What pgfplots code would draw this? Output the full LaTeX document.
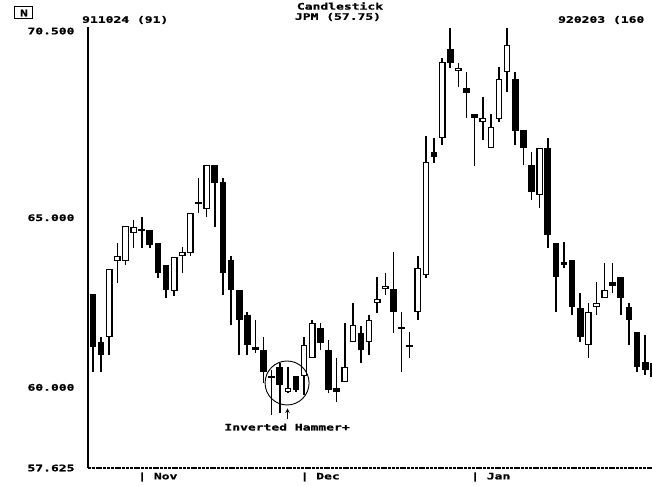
\documentclass[border=0pt]{standalone}
\usepackage{fontspec}
\setmainfont{DejaVu Sans Mono}[FakeStretch=1.45, BoldFeatures={FakeBold=1.2}]
\usepackage{pgfplots}
\pgfplotsset{compat=1.18}
\usepackage{pgfplotstable}

% JPM daily candles, 911024 .. 920203 (x = trading day)
\pgfplotstableread{
x  o     h     l     c
1  62.75 62.75 60.45 61.19
2  61.34 61.48 60.45 60.95
3  61.48 63.49 60.95 63.49
4  63.72 64.25 63.07 63.87
5  63.72 64.75 63.61 64.75
6  64.55 64.93 64.11 64.73
7  64.66 65.02 64.11 64.62
8  64.64 64.64 64.11 64.19
9  64.25 64.25 63.22 63.37
10 63.61 63.61 62.63 62.87
11 62.84 63.84 62.69 63.84
12 63.87 64.14 63.37 63.99
13 63.96 65.14 63.87 65.14
14 65.45 66.17 65.14 65.41
15 65.25 66.55 65.02 66.55
16 66.55 66.55 64.73 66.02
17 66.05 66.17 62.72 63.37
18 63.75 63.87 61.84 62.87
19 62.87 62.87 60.95 61.98
20 62.13 62.22 60.95 61.25
21 61.19 61.98 61.01 61.10
22 61.10 61.48 60.13 60.45
23 60.35 60.51 59.20 60.29
24 60.60 60.72 59.25 60.07
25 59.86 60.60 59.83 59.98
26 60.34 60.34 59.86 59.92
27 60.34 61.48 59.78 61.25
28 60.87 61.98 60.87 61.90
29 61.75 61.90 61.10 61.31
30 61.10 61.40 59.83 59.92
31 59.98 60.87 59.57 59.86
32 60.16 61.90 60.16 60.60
33 61.34 62.49 61.34 61.84
34 61.60 61.81 60.72 61.10
35 61.34 62.13 60.95 61.98
36 62.49 63.25 62.19 62.61
37 62.90 63.37 62.72 62.99
38 62.90 63.99 61.60 62.22
39 61.77 62.22 60.45 61.73
40 61.24 61.63 60.87 61.20
41 62.22 63.87 61.98 63.52
42 63.31 67.40 63.22 66.64
43 66.93 67.35 66.61 66.79
44 67.35 69.70 67.14 69.59
45 69.97 70.60 69.41 69.56
46 69.32 69.56 68.85 69.41
47 68.82 69.29 67.94 68.67
48 68.05 68.05 66.52 67.94
49 67.82 68.56 67.29 67.94
50 67.05 68.05 67.05 67.67
51 67.91 69.44 67.82 69.09
52 69.29 70.60 68.70 70.09
53 69.09 69.29 67.14 67.55
54 67.58 67.58 66.55 67.05
55 66.55 66.93 65.52 65.76
56 65.67 67.05 65.28 67.05
57 67.05 67.35 64.11 64.49
58 64.25 64.25 62.22 63.25
59 63.69 64.28 63.52 63.60
60 63.75 63.75 62.13 62.37
61 62.34 62.78 61.34 61.48
62 61.25 62.49 60.87 62.22
63 62.37 63.10 62.13 62.49
64 62.63 63.66 62.63 62.87
65 63.10 63.66 62.78 62.99
66 63.25 63.25 62.13 62.63
67 62.37 62.49 61.25 61.98
68 61.63 61.63 60.45 60.60
69 60.75 61.54 60.36 60.51
70 60.72 60.72 60.25 60.31
}\jpm

\begin{document}
\begin{tikzpicture}[font=\fontsize{9}{10}\selectfont\bfseries]
\begin{axis}[
    at={(0,0)}, anchor=south west,
    scale only axis, width=564bp, height=441bp,
    xmin=0.384, xmax=69.84, ymin=57.625, ymax=70.62,
    axis x line=bottom, axis y line=left,
    x axis line style={-, line width=1.2bp, dash pattern=on 3bp off 0.8bp},
    y axis line style={-, line width=1.3bp},
    xtick={7,27,48}, xticklabels={| Nov,| Dec,| Jan},
    ytick={57.625,60,65,70.5}, yticklabels={57.625,60.000,65.000,70.500},
    major tick length=0pt,
    xticklabel style={anchor=north west, xshift=-7bp, yshift=-1bp},
    yticklabel style={anchor=east, xshift=-10bp},
    candle/.style={draw=none, mark=none,
        error bars/y dir=plus, error bars/y explicit,
        error bars/error mark=none},
]
% wicks
\addplot[candle, error bars/error bar style={draw=black, line width=1.6bp}]
    table[x=x, y=l, y error plus expr={\thisrow{h}-\thisrow{l}}] {\jpm};
% bodies (black)
\addplot[candle, error bars/error bar style={draw=black, line width=6.7bp}]
    table[x=x, y expr={min(\thisrow{o},\thisrow{c})},
          y error plus expr={abs(\thisrow{c}-\thisrow{o})}] {\jpm};
% hollow insides for up days
\addplot[candle, error bars/error bar style={draw=white, line width=4.1bp}]
    table[x=x, y expr={min(\thisrow{o},\thisrow{c})+0.038},
          y error plus expr={max(\thisrow{c}-\thisrow{o}-0.076,0)}] {\jpm};

\draw[line width=0.9bp] (axis cs:24.9,60.13) circle[radius=22bp];
\draw[line width=1bp, ->, >=stealth] (axis cs:24.95,59.08) -- (axis cs:24.95,59.38);
\node at (axis cs:24.9,58.83) {Inverted Hammer+};
\end{axis}

\node[inner sep=0pt] at (252bp,462bp) {Candlestick};
\node[inner sep=0pt] at (250bp,451bp) {JPM (57.75)};
\node[anchor=west, inner sep=0pt] at (-6bp,448bp) {911024 (91)};
\node[anchor=west, inner sep=0pt] at (470bp,448bp) {920203 (160};
\draw[line width=1bp] (-73bp,449bp) rectangle (-55bp,461bp);
\node[inner sep=0pt] at (-64bp,455bp) {N};

\pgfresetboundingbox
\path[use as bounding box] (-88bp,-18bp) rectangle (564bp,468bp);
\end{tikzpicture}
\end{document}
